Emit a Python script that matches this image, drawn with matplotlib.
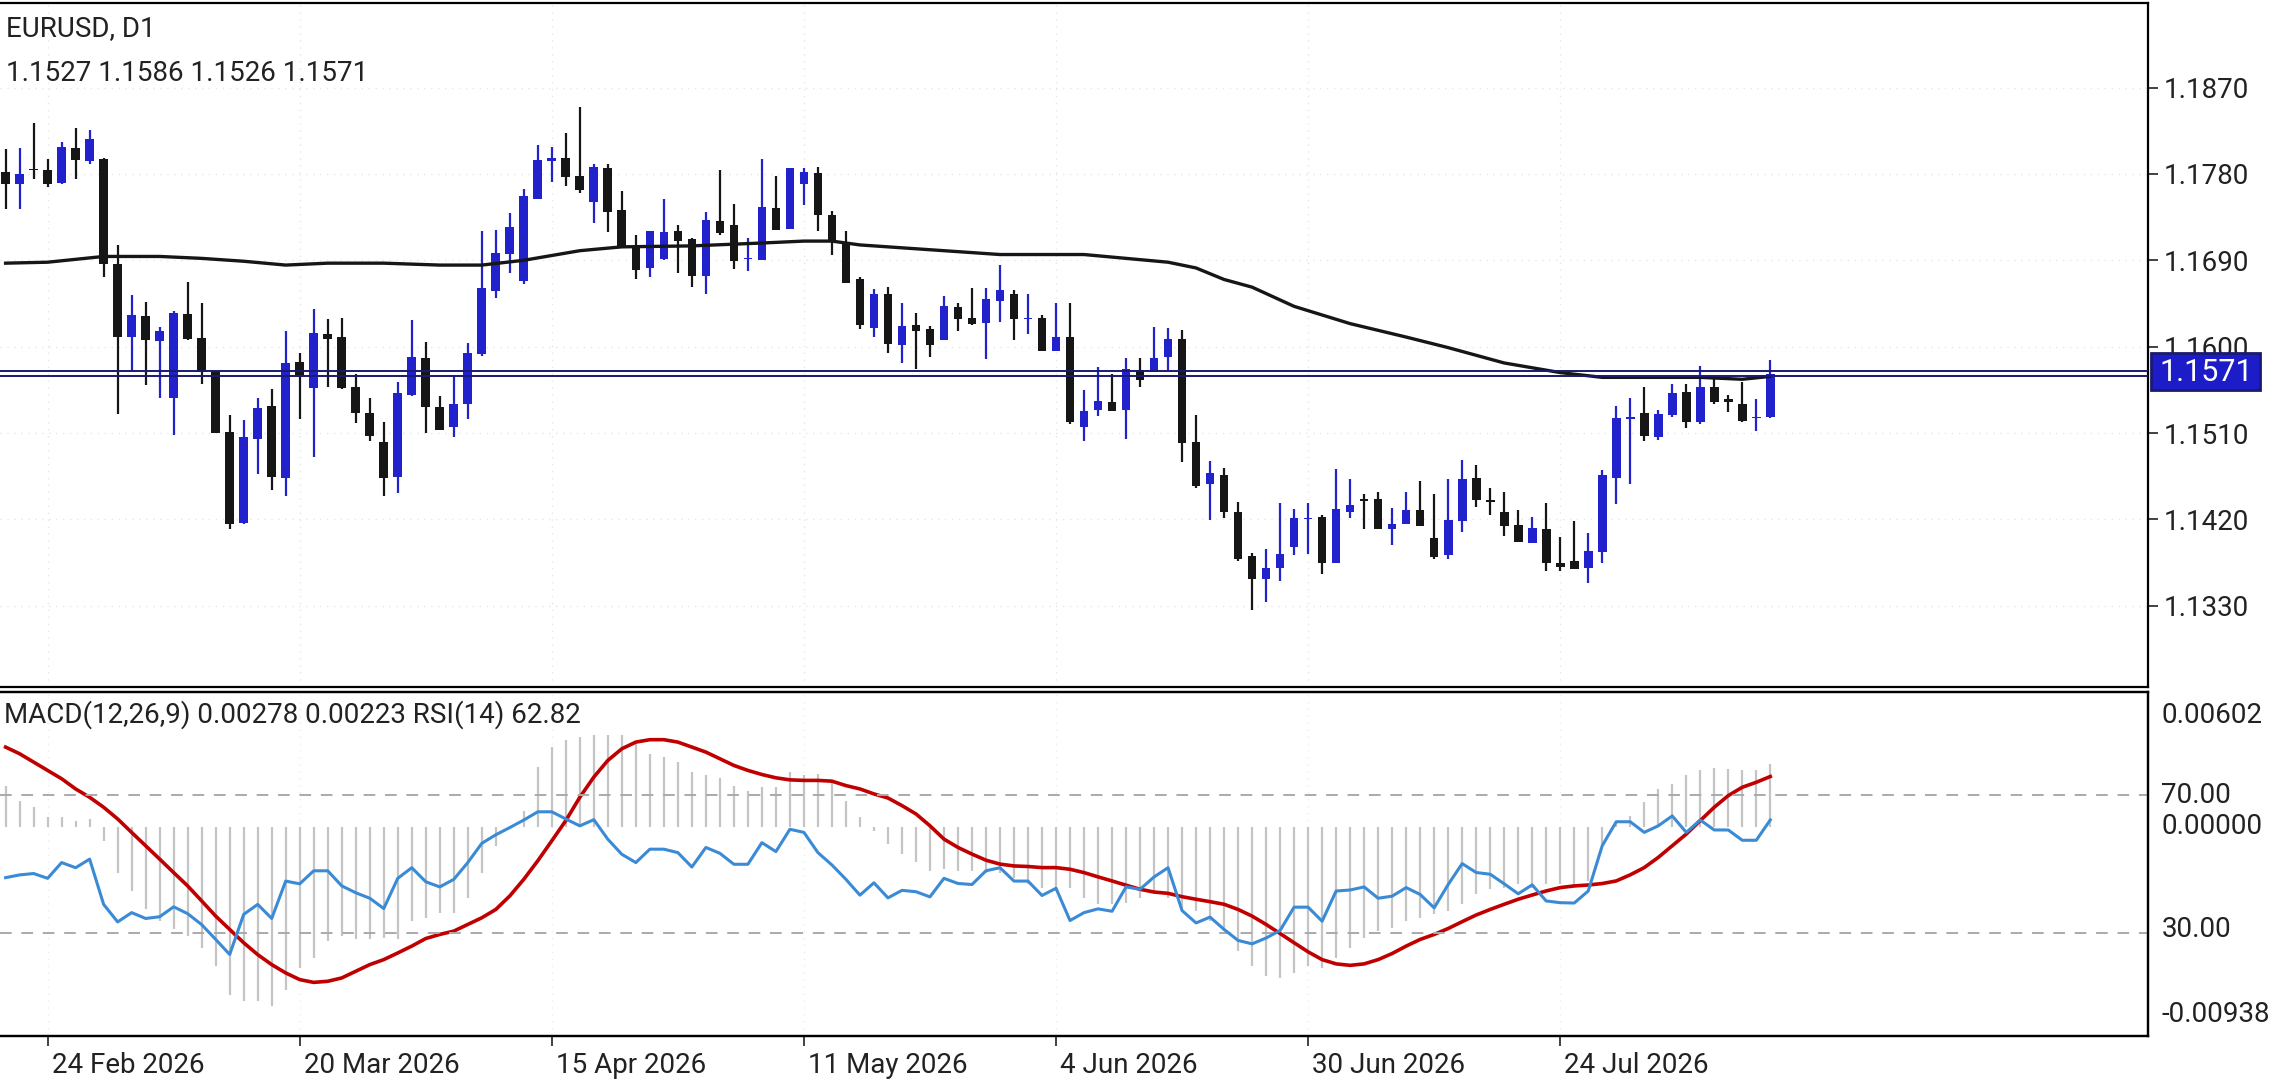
import numpy as np
import pandas as pd
import matplotlib
matplotlib.use('Agg')
import matplotlib.pyplot as plt
import matplotlib.transforms as mtransforms
from matplotlib.patches import Rectangle

plt.rcParams['font.family'] = ['Roboto', 'DejaVu Sans']

# daily EURUSD candles (open, high, low, close)
opens = [1.1782, 1.1769, 1.1785, 1.1784, 1.1771, 1.1807, 1.1793, 1.1796, 1.1686, 1.1610,
         1.1632, 1.1606, 1.1546, 1.1634, 1.1609, 1.1574, 1.1511, 1.1416, 1.1504, 1.1538,
         1.1463, 1.1584, 1.1557, 1.1613, 1.1610, 1.1558, 1.1531, 1.1501, 1.1464, 1.1550,
         1.1588, 1.1537, 1.1516, 1.1540, 1.1592, 1.1658, 1.1697, 1.1668, 1.1754, 1.1793,
         1.1797, 1.1778, 1.1751, 1.1786, 1.1742, 1.1704, 1.1682, 1.1691, 1.1720, 1.1712,
         1.1674, 1.1731, 1.1727, 1.1691, 1.1690, 1.1745, 1.1723, 1.1770, 1.1781, 1.1737,
         1.1709, 1.1670, 1.1619, 1.1655, 1.1602, 1.1623, 1.1618, 1.1607, 1.1641, 1.1630,
         1.1625, 1.1648, 1.1655, 1.1629, 1.1630, 1.1595, 1.1610, 1.1516, 1.1534, 1.1542,
         1.1534, 1.1576, 1.1574, 1.1589, 1.1608, 1.1501, 1.1457, 1.1466, 1.1428, 1.1382,
         1.1358, 1.1369, 1.1391, 1.1420, 1.1422, 1.1375, 1.1428, 1.1441, 1.1441, 1.1410,
         1.1415, 1.1430, 1.1401, 1.1383, 1.1418, 1.1463, 1.1440, 1.1428, 1.1414, 1.1395,
         1.1410, 1.1375, 1.1377, 1.1369, 1.1386, 1.1463, 1.1525, 1.1531, 1.1506, 1.1529,
         1.1553, 1.1522, 1.1558, 1.1545, 1.1540, 1.1526, 1.1527]
highs = [1.1806, 1.1807, 1.1833, 1.1796, 1.1813, 1.1828, 1.1826, 1.1797, 1.1706, 1.1654,
         1.1647, 1.1620, 1.1637, 1.1667, 1.1645, 1.1575, 1.1529, 1.1524, 1.1547, 1.1556,
         1.1616, 1.1593, 1.1639, 1.1629, 1.1630, 1.1572, 1.1547, 1.1522, 1.1563, 1.1628,
         1.1605, 1.1549, 1.1570, 1.1604, 1.1720, 1.1722, 1.1739, 1.1764, 1.1810, 1.1808,
         1.1823, 1.1850, 1.1790, 1.1790, 1.1762, 1.1716, 1.1721, 1.1754, 1.1727, 1.1713,
         1.1740, 1.1784, 1.1749, 1.1713, 1.1796, 1.1778, 1.1786, 1.1786, 1.1787, 1.1741,
         1.1720, 1.1673, 1.1660, 1.1662, 1.1645, 1.1635, 1.1622, 1.1653, 1.1646, 1.1661,
         1.1661, 1.1685, 1.1659, 1.1655, 1.1633, 1.1645, 1.1645, 1.1555, 1.1579, 1.1572,
         1.1588, 1.1588, 1.1621, 1.1619, 1.1617, 1.1529, 1.1481, 1.1474, 1.1438, 1.1385,
         1.1389, 1.1437, 1.1431, 1.1437, 1.1425, 1.1473, 1.1462, 1.1446, 1.1449, 1.1432,
         1.1449, 1.1460, 1.1446, 1.1462, 1.1482, 1.1477, 1.1453, 1.1449, 1.1430, 1.1422,
         1.1437, 1.1402, 1.1418, 1.1406, 1.1471, 1.1538, 1.1547, 1.1558, 1.1534, 1.1561,
         1.1561, 1.1580, 1.1568, 1.1550, 1.1563, 1.1545, 1.1586]
lows = [1.1743, 1.1743, 1.1775, 1.1766, 1.1770, 1.1775, 1.1790, 1.1673, 1.1530, 1.1575,
        1.1560, 1.1547, 1.1508, 1.1607, 1.1561, 1.1510, 1.1410, 1.1415, 1.1467, 1.1451,
        1.1444, 1.1525, 1.1485, 1.1558, 1.1556, 1.1520, 1.1502, 1.1444, 1.1448, 1.1549,
        1.1510, 1.1513, 1.1506, 1.1525, 1.1590, 1.1651, 1.1677, 1.1665, 1.1754, 1.1772,
        1.1767, 1.1760, 1.1729, 1.1719, 1.1705, 1.1670, 1.1673, 1.1690, 1.1677, 1.1662,
        1.1655, 1.1716, 1.1681, 1.1679, 1.1690, 1.1722, 1.1723, 1.1748, 1.1721, 1.1696,
        1.1666, 1.1618, 1.1610, 1.1593, 1.1583, 1.1577, 1.1589, 1.1607, 1.1616, 1.1623,
        1.1587, 1.1626, 1.1607, 1.1613, 1.1595, 1.1595, 1.1519, 1.1502, 1.1528, 1.1533,
        1.1504, 1.1558, 1.1574, 1.1576, 1.1480, 1.1453, 1.1419, 1.1421, 1.1377, 1.1326,
        1.1334, 1.1356, 1.1383, 1.1384, 1.1363, 1.1375, 1.1421, 1.1410, 1.1410, 1.1393,
        1.1415, 1.1413, 1.1379, 1.1379, 1.1407, 1.1433, 1.1425, 1.1403, 1.1396, 1.1395,
        1.1366, 1.1366, 1.1368, 1.1354, 1.1375, 1.1436, 1.1457, 1.1502, 1.1503, 1.1527,
        1.1515, 1.1519, 1.1540, 1.1532, 1.1522, 1.1512, 1.1526]
closes = [1.1770, 1.1780, 1.1784, 1.1769, 1.1808, 1.1794, 1.1816, 1.1686, 1.1610, 1.1633,
          1.1607, 1.1616, 1.1635, 1.1608, 1.1574, 1.1510, 1.1415, 1.1506, 1.1536, 1.1464,
          1.1583, 1.1570, 1.1614, 1.1608, 1.1557, 1.1531, 1.1507, 1.1463, 1.1552, 1.1589,
          1.1537, 1.1513, 1.1540, 1.1593, 1.1661, 1.1698, 1.1725, 1.1757, 1.1794, 1.1797,
          1.1777, 1.1763, 1.1787, 1.1740, 1.1705, 1.1680, 1.1720, 1.1719, 1.1710, 1.1674,
          1.1732, 1.1718, 1.1689, 1.1692, 1.1746, 1.1722, 1.1786, 1.1782, 1.1737, 1.1709,
          1.1666, 1.1623, 1.1655, 1.1603, 1.1622, 1.1616, 1.1602, 1.1642, 1.1629, 1.1624,
          1.1650, 1.1659, 1.1629, 1.1630, 1.1595, 1.1610, 1.1521, 1.1533, 1.1543, 1.1533,
          1.1577, 1.1565, 1.1588, 1.1608, 1.1500, 1.1455, 1.1468, 1.1428, 1.1379, 1.1358,
          1.1369, 1.1384, 1.1421, 1.1421, 1.1375, 1.1431, 1.1435, 1.1439, 1.1410, 1.1415,
          1.1430, 1.1413, 1.1381, 1.1419, 1.1462, 1.1440, 1.1438, 1.1413, 1.1396, 1.1411,
          1.1375, 1.1370, 1.1368, 1.1387, 1.1466, 1.1526, 1.1527, 1.1507, 1.1530, 1.1552,
          1.1521, 1.1558, 1.1542, 1.1542, 1.1523, 1.1527, 1.1571]

# moving average, read at a few bars
ma_idx = [0, 3, 7, 11, 14, 17, 20, 23, 27, 31, 34, 37, 41, 44, 49, 54, 57, 59, 61, 65,
          68, 71, 77, 80, 83, 85, 87, 89, 92, 96, 100, 103, 107, 111, 114, 117, 121, 124, 126]
ma_val = [1.1687, 1.1688, 1.1694, 1.1694, 1.1692, 1.1689, 1.1685, 1.1687, 1.1687, 1.1685,
          1.1685, 1.1690, 1.1700, 1.1704, 1.1705, 1.1708, 1.1710, 1.1710, 1.1706, 1.1702,
          1.1699, 1.1696, 1.1696, 1.1692, 1.1688, 1.1682, 1.1670, 1.1662, 1.1642, 1.1624,
          1.1610, 1.1599, 1.1583, 1.1573, 1.1568, 1.1568, 1.1568, 1.1566, 1.1569]

# MACD main (histogram) and signal, in units of 1e-5
macd_hist = [222, 141, 105, 54, 51, 33, 42, -76, -248, -347, -447, -510, -555, -591, -655,
             -754, -908, -944, -944, -971, -880, -763, -709, -618, -591, -609, -609, -600,
             -609, -510, -492, -465, -465, -383, -248, -103, -4, 87, 322, 430, 466, 485, 494,
             494, 494, 448, 394, 376, 349, 295, 277, 264, 222, 195, 213, 213, 295, 277, 286,
             240, 141, 51, -22, -94, -148, -188, -239, -230, -239, -239, -248, -248, -275,
             -311, -329, -347, -329, -383, -419, -419, -410, -383, -347, -383, -438, -456,
             -510, -564, -673, -754, -808, -817, -790, -754, -763, -709, -655, -600, -564,
             -546, -510, -492, -474, -456, -419, -365, -338, -329, -311, -329, -311, -311,
             -320, -293, -112, 24, 60, 132, 201, 231, 280, 304, 318, 309, 304, 304, 336]
macd_sig = [430, 394, 349, 304, 259, 204, 159, 105, 42, -31, -103, -175, -248, -320, -401,
            -483, -555, -627, -691, -745, -790, -826, -841, -835, -817, -781, -745, -718,
            -682, -645, -604, -582, -564, -528, -492, -447, -374, -284, -184, -76, 33, 159,
            268, 358, 421, 457, 470, 470, 457, 430, 403, 367, 331, 304, 282, 264, 253, 250,
            250, 246, 222, 204, 177, 155, 114, 69, 5, -67, -112, -148, -181, -202, -212,
            -215, -221, -221, -230, -248, -271, -293, -316, -338, -353, -360, -378, -392,
            -405, -419, -447, -483, -528, -577, -627, -676, -718, -741, -749, -741, -718,
            -685, -645, -609, -582, -550, -513, -477, -447, -419, -392, -369, -347, -329,
            -320, -315, -307, -293, -260, -221, -166, -103, -40, 33, 105, 168, 213, 240, 271]
rsi = [46.0, 46.8, 47.2, 45.8, 50.4, 48.9, 51.4, 38.2, 33.1, 35.8, 34.1, 34.6, 37.5, 35.5,
       32.3, 28.0, 23.6, 35.3, 38.2, 34.1, 45.0, 44.2, 48.0, 48.0, 43.6, 41.6, 40.0, 37.0,
       45.8, 48.9, 44.8, 43.3, 45.5, 50.4, 56.0, 58.5, 60.6, 62.8, 65.2, 65.2, 63.1, 61.1,
       62.9, 57.2, 52.8, 50.4, 54.3, 54.3, 53.3, 49.1, 54.8, 53.1, 49.9, 49.9, 56.2, 53.6,
       60.1, 59.2, 53.3, 49.7, 45.5, 40.9, 44.5, 40.1, 42.3, 41.9, 40.4, 45.8, 44.3, 44.0,
       48.0, 48.9, 45.0, 45.0, 40.8, 42.9, 33.5, 35.8, 36.9, 36.2, 43.3, 42.6, 46.2, 48.9,
       36.4, 32.8, 34.5, 30.9, 27.7, 26.7, 28.4, 30.6, 37.4, 37.4, 33.3, 42.1, 42.4, 43.3,
       40.0, 40.6, 43.1, 41.1, 37.2, 44.0, 50.1, 47.5, 47.0, 44.2, 41.3, 43.9, 39.2, 38.7,
       38.6, 42.1, 55.3, 62.3, 62.3, 59.2, 61.1, 64.0, 59.2, 62.8, 59.9, 59.9, 56.9, 56.9, 62.82]

bid = 1.15695
ask = 1.15745
price_ticks = [1.1330, 1.1420, 1.1510, 1.1600, 1.1690, 1.1780, 1.1870]
dates = pd.bdate_range('2026-02-19', periods=len(closes))
date_idx = list(range(3, len(closes), 18))

BLUE = '#2222cc'
BLACK = '#161616'
NAVY = '#1a1a70'
FS = 20

fig = plt.figure(figsize=(22.88, 10.8), dpi=100)
ax = fig.add_axes([0.0, 0.3635, 0.939, 0.6338])
axm = fig.add_axes([0.0, 0.0405, 0.939, 0.319])
axr = axm.twinx()

x = np.arange(len(closes))
o = np.array(opens); h = np.array(highs); l = np.array(lows); c = np.array(closes)
up = c >= o
cols = np.where(up, BLUE, BLACK)
ax.vlines(x, l, h, colors=cols, linewidth=1.6, zorder=3)
ax.bar(x, np.maximum(np.abs(c - o), 0.00004), bottom=np.minimum(o, c), width=0.62,
       color=cols, zorder=4)
ax.plot(ma_idx, ma_val, color=BLACK, linewidth=2.4, zorder=5)
ax.axhline(ask, color=NAVY, linewidth=1.4, zorder=6)
ax.axhline(bid, color=NAVY, linewidth=1.4, zorder=6)

ax.set_xlim(-0.4, 153.0)
ax.set_ylim(1.12449, 1.19582)
ax.yaxis.tick_right()
ax.set_yticks(price_ticks)
ax.set_yticklabels(['%.4f' % v for v in price_ticks])
ax.tick_params(axis='y', labelsize=FS, length=7, width=1.2, pad=4, colors='#222222')
ax.set_xticks(date_idx)
ax.tick_params(axis='x', length=0, labelbottom=False)
ax.grid(True, color='#e6e6e6', linestyle=(0, (1, 4)), linewidth=1)
ax.spines['left'].set_visible(False)
for s in ['top', 'right', 'bottom']:
    ax.spines[s].set_linewidth(1.6)

trans = mtransforms.blended_transform_factory(ax.transAxes, ax.transData)
ax.add_patch(Rectangle((1.0012, 1.1555), 0.0505, 0.0038, transform=trans, clip_on=False,
                       facecolor='#1c1cc8', edgecolor=NAVY, linewidth=2, zorder=10))
ax.text(1.005, 1.1573, '%.4f' % closes[-1], transform=trans, color='white', fontsize=22,
        va='center', ha='left', zorder=11, clip_on=False)

ax.text(0.003, 0.963, 'EURUSD, D1', transform=ax.transAxes, fontsize=FS, color='#222222', va='center')
ax.text(0.003, 0.897, '%.4f %.4f %.4f %.4f' % (opens[-1], highs[-1], lows[-1], closes[-1]),
        transform=ax.transAxes, fontsize=FS, color='#222222', va='center')

# MACD + RSI panel
hist = np.array(macd_hist) * 1e-5
sig = np.array(macd_sig) * 1e-5
axm.vlines(x, 0, hist, colors='#c4c4c4', linewidth=1.6, zorder=2)
axm.plot(x, sig, color='#c00000', linewidth=2.6, zorder=4)
axm.set_ylim(-0.01132, 0.00729)
axm.set_xlim(ax.get_xlim())
axr.plot(x, rsi, color='#3a8ad6', linewidth=2.2, zorder=5)
axr.axhline(70, color='#aaaaaa', linestyle=(0, (6, 5)), linewidth=1.4)
axr.axhline(30, color='#aaaaaa', linestyle=(0, (6, 5)), linewidth=1.4)
axr.set_ylim(-0.24, 100.2)
axr.set_yticks([])
axm.set_yticks([])
axm.grid(True, axis='x', color='#ececec', linestyle=(0, (1, 4)), linewidth=1)
for a in (axm, axr):
    a.spines['left'].set_visible(False)
    for s in ['top', 'right', 'bottom']:
        a.spines[s].set_linewidth(1.6)

axm.set_xticks(date_idx)
axm.set_xticklabels([dates[i].strftime('%-d %b %Y') for i in date_idx])
axm.tick_params(axis='x', labelsize=FS, length=7, width=1.2, pad=4, colors='#222222')
off = mtransforms.ScaledTranslation(4 / 100, 0, fig.dpi_scale_trans)
for lab in axm.get_xticklabels():
    lab.set_ha('left')
    lab.set_transform(lab.get_transform() + off)

for txt, yf in [('0.00602', 0.932), ('70.00', 0.699), ('0.00000', 0.610),
                ('30.00', 0.309), ('-0.00938', 0.0636)]:
    axm.text(1.006, yf, txt, transform=axm.transAxes, fontsize=FS, color='#222222',
             va='center', ha='left', clip_on=False)
axm.text(0.002, 0.935, 'MACD(12,26,9) %.5f %.5f RSI(14) %.2f' % (0.00278, 0.00223, rsi[-1]),
         transform=axm.transAxes, fontsize=FS, color='#222222', va='center', zorder=10)

fig.savefig('out.png', dpi=100, facecolor='white')
